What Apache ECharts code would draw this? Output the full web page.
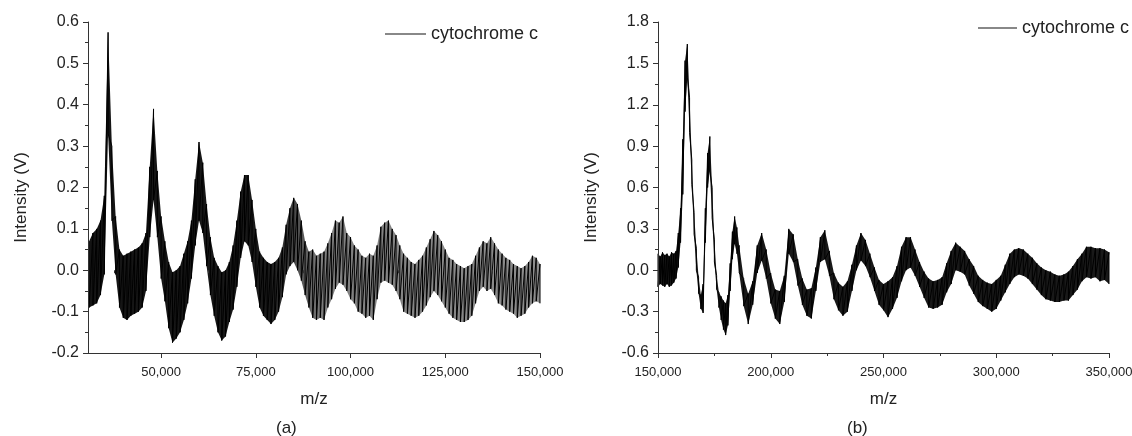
<!DOCTYPE html>
<html>
<head>
<meta charset="utf-8">
<script src="https://cdn.jsdelivr.net/npm/echarts@6/dist/echarts.min.js"></script>
<style>
  html, body { margin: 0; padding: 0; background: #fff; }
  #chart { width: 1132px; height: 436px; }
</style>
</head>
<body>
<div id="chart"></div>
<script>
// Panel (a): m/z sample positions and upper / lower edge of the noisy trace
const mzA = [31000, 32000, 33000, 34000, 35000, 36000, 37000, 38000, 39000, 40000,
  41000, 42000, 43000, 44000, 45000, 46000, 47000, 48000, 49000, 50000,
  51000, 52000, 53000, 54000, 55000, 56000, 57000, 58000, 59000, 60000,
  61000, 62000, 63000, 64000, 65000, 66000, 67000, 68000, 69000, 70000,
  71000, 72000, 73000, 74000, 75000, 76000, 77000, 78000, 79000, 80000,
  81000, 82000, 83000, 84000, 85000, 86000, 87000, 88000, 89000, 90000,
  91000, 92000, 93000, 94000, 95000, 96000, 97000, 98000, 99000, 100000,
  101000, 102000, 103000, 104000, 105000, 106000, 107000, 108000, 109000, 110000,
  111000, 112000, 113000, 114000, 115000, 116000, 117000, 118000, 119000, 120000,
  121000, 122000, 123000, 124000, 125000, 126000, 127000, 128000, 129000, 130000,
  131000, 132000, 133000, 134000, 135000, 136000, 137000, 138000, 139000, 140000,
  141000, 142000, 143000, 144000, 145000, 146000, 147000, 148000, 149000, 150000];
const hiA = [0.07, 0.09, 0.10, 0.12, 0.18, 0.575, 0.30, 0.13, 0.05, 0.035,
  0.04, 0.045, 0.05, 0.055, 0.065, 0.09, 0.25, 0.39, 0.24, 0.13,
  0.07, 0.02, -0.005, 0.0, 0.01, 0.04, 0.07, 0.12, 0.22, 0.31,
  0.26, 0.16, 0.08, 0.03, 0.01, -0.005, 0.0, 0.02, 0.06, 0.12,
  0.19, 0.23, 0.23, 0.17, 0.10, 0.045, 0.03, 0.02, 0.015, 0.02,
  0.03, 0.055, 0.11, 0.15, 0.175, 0.16, 0.12, 0.07, 0.045, 0.05,
  0.035, 0.04, 0.045, 0.065, 0.09, 0.12, 0.115, 0.13, 0.09, 0.08,
  0.06, 0.05, 0.035, 0.03, 0.04, 0.035, 0.06, 0.105, 0.115, 0.12,
  0.10, 0.085, 0.06, 0.04, 0.03, 0.02, 0.015, 0.025, 0.035, 0.055,
  0.075, 0.095, 0.085, 0.07, 0.05, 0.03, 0.025, 0.015, 0.01, 0.005,
  0.01, 0.015, 0.035, 0.055, 0.07, 0.065, 0.08, 0.065, 0.05, 0.04,
  0.03, 0.025, 0.015, 0.01, 0.005, 0.01, 0.02, 0.035, 0.03, 0.015];
const loA = [-0.09, -0.085, -0.08, -0.06, -0.01, 0.33, 0.12, -0.01, -0.09, -0.115,
  -0.12, -0.11, -0.105, -0.10, -0.09, -0.05, 0.08, 0.17, 0.08, -0.02,
  -0.075, -0.14, -0.175, -0.165, -0.15, -0.12, -0.08, -0.02, 0.06, 0.12,
  0.09, 0.01, -0.06, -0.11, -0.15, -0.17, -0.16, -0.125, -0.095, -0.04,
  0.03, 0.07, 0.06, 0.02, -0.04, -0.09, -0.11, -0.12, -0.13, -0.12,
  -0.10, -0.065, -0.01, 0.01, 0.02, 0.0, -0.025, -0.06, -0.09, -0.115,
  -0.12, -0.115, -0.12, -0.09, -0.07, -0.045, -0.03, -0.035, -0.05, -0.07,
  -0.08, -0.10, -0.105, -0.115, -0.11, -0.12, -0.07, -0.03, -0.025, -0.03,
  -0.035, -0.05, -0.07, -0.10, -0.105, -0.11, -0.115, -0.11, -0.10, -0.085,
  -0.065, -0.05, -0.06, -0.075, -0.09, -0.105, -0.115, -0.12, -0.125, -0.125,
  -0.12, -0.11, -0.08, -0.05, -0.04, -0.05, -0.045, -0.06, -0.08, -0.085,
  -0.095, -0.10, -0.105, -0.115, -0.11, -0.105, -0.09, -0.08, -0.075, -0.08];

// Panel (b)
const mzB = [150000, 151000, 152000, 153000, 154000, 155000, 156000, 157000, 158000, 159000,
  160000, 161000, 162000, 163000, 164000, 165000, 166000, 167000, 168000, 169000,
  170000, 171000, 172000, 173000, 174000, 175000, 176000, 177000, 178000, 179000,
  180000, 181000, 182000, 183000, 184000, 185000, 186000, 188000, 190000, 192000,
  194000, 196000, 198000, 200000, 202000, 204000, 206000, 208000, 210000, 212000,
  214000, 216000, 218000, 220000, 222000, 224000, 226000, 228000, 230000, 232000,
  234000, 236000, 238000, 240000, 242000, 244000, 246000, 248000, 250000, 252000,
  254000, 256000, 258000, 260000, 262000, 264000, 266000, 268000, 270000, 272000,
  274000, 276000, 278000, 280000, 282000, 284000, 286000, 288000, 290000, 292000,
  294000, 296000, 298000, 300000, 302000, 304000, 306000, 308000, 310000, 312000,
  314000, 316000, 318000, 320000, 322000, 324000, 326000, 328000, 330000, 332000,
  334000, 336000, 338000, 340000, 342000, 344000, 346000, 348000, 350000];
const hiB = [0.12, 0.10, 0.13, 0.11, 0.12, 0.10, 0.13, 0.12, 0.14, 0.27,
  0.45, 0.95, 1.52, 1.64, 1.25, 0.80, 0.42, 0.16, -0.05, -0.18,
  -0.10, 0.45, 0.85, 0.97, 0.60, 0.22, -0.04, -0.16, -0.19, -0.22,
  -0.24, -0.18, 0.05, 0.28, 0.39, 0.31, 0.18, -0.06, -0.17, -0.08,
  0.18, 0.27, 0.15, -0.02, -0.14, -0.15, -0.04, 0.30, 0.26, 0.08,
  -0.06, -0.14, -0.13, 0.02, 0.24, 0.29, 0.14, -0.02, -0.09, -0.12,
  -0.08, 0.04, 0.18, 0.27, 0.22, 0.12, 0.02, -0.07, -0.10, -0.08,
  -0.05, 0.03, 0.17, 0.24, 0.24, 0.15, 0.06, -0.01, -0.06, -0.08,
  -0.07, -0.05, 0.05, 0.14, 0.20, 0.17, 0.14, 0.08, 0.03, -0.04,
  -0.07, -0.09, -0.10, -0.07, -0.04, 0.04, 0.12, 0.15, 0.16, 0.15,
  0.12, 0.09, 0.05, 0.02, 0.0, -0.01, -0.03, -0.04, -0.03, -0.01,
  0.03, 0.08, 0.12, 0.17, 0.17, 0.16, 0.16, 0.15, 0.13];
const loB = [-0.12, -0.10, -0.11, -0.12, -0.10, -0.12, -0.11, -0.09, -0.06, 0.02,
  0.20, 0.55, 1.15, 1.40, 1.00, 0.62, 0.26, 0.0, -0.17, -0.28,
  -0.31, 0.20, 0.60, 0.72, 0.38, 0.06, -0.14, -0.27, -0.36, -0.43,
  -0.47, -0.40, -0.15, 0.08, 0.19, 0.12, -0.02, -0.26, -0.39, -0.25,
  -0.02, 0.07, -0.06, -0.24, -0.35, -0.39, -0.23, 0.12, 0.06, -0.11,
  -0.25, -0.33, -0.35, -0.15, 0.06, 0.08, -0.04, -0.21, -0.29, -0.33,
  -0.30, -0.15, 0.0, 0.07, 0.03, -0.05, -0.15, -0.25, -0.29, -0.34,
  -0.28, -0.20, -0.08, 0.0, 0.02, -0.04, -0.12, -0.20, -0.27, -0.28,
  -0.27, -0.25, -0.16, -0.10, 0.0, -0.01, -0.03, -0.11, -0.17, -0.23,
  -0.26, -0.28, -0.30, -0.28, -0.22, -0.16, -0.10, -0.05, -0.03, -0.04,
  -0.06, -0.10, -0.14, -0.18, -0.21, -0.22, -0.23, -0.23, -0.22, -0.22,
  -0.18, -0.14, -0.08, -0.05, -0.06, -0.05, -0.08, -0.07, -0.10];

const seriesName = 'cytochrome c';
const xLabelsA = [50000, 75000, 100000, 125000, 150000];
const xMinorA = [37500, 62500, 87500, 112500, 137500];

const font = 'Liberation Sans, Arial, sans-serif';
const ink = '#222';

// trace drawn as strokes going up and down between the two edges
function zigzag(mz, hi, lo) {
  const pts = [];
  mz.forEach((x, i) => {
    pts.push([x, hi[i]]);
    pts.push([x, lo[i]]);
  });
  return pts;
}

// filled body of the trace between the two edges
function band(mz, hi, lo, fill) {
  return function (params, api) {
    if (params.dataIndex !== 0) return;
    const pts = [];
    for (let i = 0; i < mz.length; i++) pts.push(api.coord([mz[i], hi[i]]));
    for (let i = mz.length - 1; i >= 0; i--) pts.push(api.coord([mz[i], lo[i]]));
    return { type: 'polygon', shape: { points: pts }, style: { fill: fill } };
  };
}

function yAxis(grid, min, max, step) {
  return {
    type: 'value', gridIndex: grid, min: min, max: max, interval: step, z: 5,
    name: 'Intensity (V)', nameLocation: 'middle', nameGap: 58,
    nameTextStyle: { fontFamily: font, fontSize: 17, color: ink, padding: [0, 20, 0, 0] },
    axisLine: { show: true, lineStyle: { color: '#333', width: 1 } },
    axisTick: { show: true, length: 5, lineStyle: { color: '#333' } },
    minorTick: { show: true, splitNumber: 2, length: 3, lineStyle: { color: '#333' } },
    splitLine: { show: false },
    axisLabel: { fontFamily: font, fontSize: 16, color: ink, margin: 9,
      formatter: v => v.toFixed(1) }
  };
}

const xName = {
  name: 'm/z', nameLocation: 'middle', nameGap: 38,
  nameTextStyle: { fontFamily: font, fontSize: 17, color: ink }
};
const xLabelStyle = { fontFamily: font, fontSize: 13, color: ink, margin: 13,
  formatter: v => v.toLocaleString('en-US') };

const legendStyle = {
  data: [seriesName], icon: 'rect', itemHeight: 2, padding: 0, selectedMode: false,
  itemStyle: { color: '#888' },
  textStyle: { fontFamily: font, fontSize: 18, color: ink }
};

const chart = echarts.init(document.getElementById('chart'));
chart.setOption({
  animation: false,
  backgroundColor: '#fff',
  grid: [
    { left: 88, top: 22, width: 452, height: 331, outerBoundsMode: 'none' },
    { left: 658, top: 22, width: 451, height: 331, outerBoundsMode: 'none' }
  ],
  xAxis: [
    Object.assign({
      type: 'value', gridIndex: 0, min: 30700, max: 150000, z: 5,
      axisLine: { show: true, onZero: false, lineStyle: { color: '#333' } },
      axisTick: { show: true, length: 5, customValues: xLabelsA, lineStyle: { color: '#333' } },
      axisLabel: Object.assign({ customValues: xLabelsA }, xLabelStyle),
      splitLine: { show: false }
    }, xName),
    {
      type: 'value', gridIndex: 0, min: 30700, max: 150000, position: 'bottom', z: 5,
      axisLine: { show: false },
      axisTick: { show: true, length: 3, customValues: xMinorA, lineStyle: { color: '#333' } },
      axisLabel: { show: false },
      splitLine: { show: false }
    },
    Object.assign({
      type: 'value', gridIndex: 1, min: 150000, max: 350000, interval: 50000, z: 5,
      axisLine: { show: true, onZero: false, lineStyle: { color: '#333' } },
      axisTick: { show: true, length: 5, lineStyle: { color: '#333' } },
      minorTick: { show: true, splitNumber: 2, length: 3, lineStyle: { color: '#333' } },
      axisLabel: xLabelStyle,
      splitLine: { show: false }
    }, xName)
  ],
  yAxis: [yAxis(0, -0.2, 0.6, 0.1), yAxis(1, -0.6, 1.8, 0.3)],
  legend: [
    Object.assign({ left: 385, top: 25, itemWidth: 41, itemGap: 0 }, legendStyle),
    Object.assign({ left: 978, top: 19, itemWidth: 39, itemGap: 0 }, legendStyle)
  ],
  graphic: [
    { type: 'text', left: 276, top: 420, style: { text: '(a)', font: '17px ' + font, fill: ink } },
    { type: 'text', left: 847, top: 420, style: { text: '(b)', font: '17px ' + font, fill: ink } }
  ],
  series: [
    { type: 'custom', xAxisIndex: 0, yAxisIndex: 0, data: [[mzA[0], hiA[0]]], z: 1, silent: true,
      renderItem: band(mzA, hiA, loA, {
        type: 'linear', x: 0, y: 0, x2: 1, y2: 0,
        colorStops: [
          { offset: 0, color: 'rgba(0,0,0,0.92)' },
          { offset: 0.4, color: 'rgba(0,0,0,0.9)' },
          { offset: 0.52, color: 'rgba(0,0,0,0.5)' },
          { offset: 1, color: 'rgba(0,0,0,0.45)' }
        ]
      }) },
    { name: seriesName, type: 'line', xAxisIndex: 0, yAxisIndex: 0, data: zigzag(mzA, hiA, loA),
      symbol: 'none', color: '#000', lineStyle: { color: '#000', width: 1 }, z: 3 },
    { type: 'custom', xAxisIndex: 2, yAxisIndex: 1, data: [[mzB[0], hiB[0]]], z: 1, silent: true,
      renderItem: band(mzB, hiB, loB, 'rgba(0,0,0,0.9)') },
    { name: seriesName, type: 'line', xAxisIndex: 2, yAxisIndex: 1, data: zigzag(mzB, hiB, loB),
      symbol: 'none', color: '#000', lineStyle: { color: '#000', width: 1 }, z: 3 }
  ]
});
</script>
</body>
</html>
